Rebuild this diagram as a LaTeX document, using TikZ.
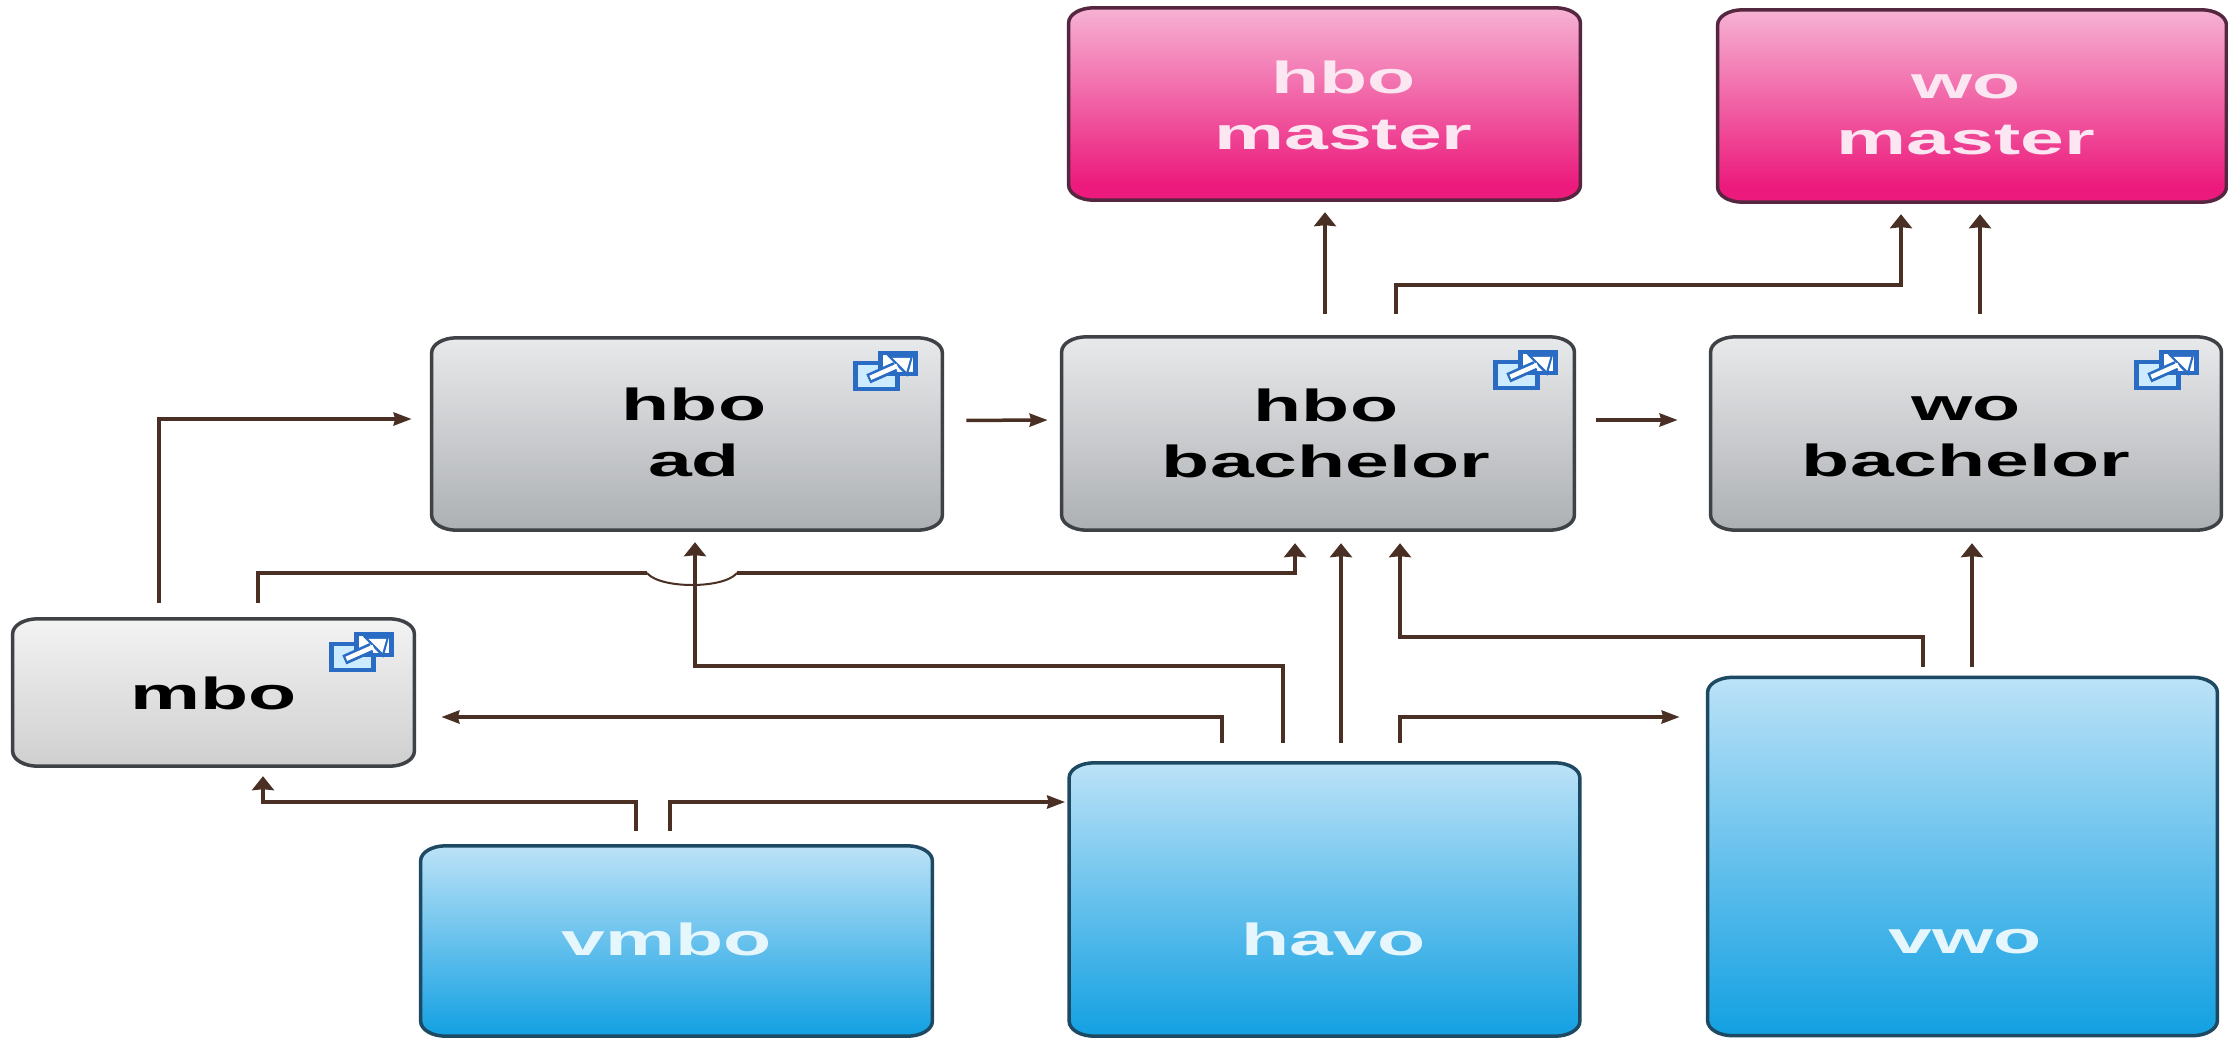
\documentclass[tikz,border=0pt]{standalone}
\usepackage{fontspec}
\setmainfont{Liberation Sans}
\usetikzlibrary{arrows.meta,backgrounds}
\definecolor{conn}{HTML}{4A3024}
\definecolor{pinkT}{HTML}{F6B2D3}
\definecolor{pinkB}{HTML}{EC1A7C}
\definecolor{blueT}{HTML}{BCE2F7}
\definecolor{blueB}{HTML}{12A0E2}
\definecolor{grayT}{HTML}{E8E9EB}
\definecolor{grayB}{HTML}{ADB0B3}
\definecolor{mboT}{HTML}{F3F3F3}
\definecolor{mboB}{HTML}{CFCFD0}
\definecolor{iconblue}{HTML}{2A6CC4}
\definecolor{iconfill}{HTML}{CDEBFF}
\definecolor{pinkedge}{HTML}{55263F}
\definecolor{blueedge}{HTML}{1D4A62}
\definecolor{grayedge}{HTML}{3E4145}
\definecolor{pinktext}{HTML}{FBE6F1}
\definecolor{bluetext}{HTML}{E6F6FD}
\pgfdeclareverticalshading{pinksh}{100bp}{color(0bp)=(pinkB); color(29bp)=(pinkB); color(75bp)=(pinkT); color(100bp)=(pinkT)}
\pgfdeclareverticalshading{bluesh}{100bp}{color(0bp)=(blueB); color(25bp)=(blueB); color(75bp)=(blueT); color(100bp)=(blueT)}
\pgfdeclareverticalshading{graysh}{100bp}{color(0bp)=(grayB); color(25bp)=(grayB); color(75bp)=(grayT); color(100bp)=(grayT)}
\pgfdeclareverticalshading{mbosh}{100bp}{color(0bp)=(mboB); color(25bp)=(mboB); color(75bp)=(mboT); color(100bp)=(mboT)}
% text placed by its offset from the centre of the box: dx (in picture px), baseline dy
\newcommand\lbl[3]{\raisebox{-#2pt}[0pt][0pt]{\makebox[0pt][c]{\kern\dimexpr #1pt*8/7\relax\begin{tabular}[b]{@{}c@{}}#3\end{tabular}}}}
% the outline of a box, with elliptical corners, behind its node
\newcommand\softbox[2]{\begin{scope}[on background layer]
  \path[softedge,#2] ([xshift=25pt]#1.north west) -- ([xshift=-25pt]#1.north east)
    arc[start angle=90,end angle=0,x radius=25pt,y radius=15pt]
    -- ([yshift=15pt]#1.south east)
    arc[start angle=0,end angle=-90,x radius=25pt,y radius=15pt]
    -- ([xshift=25pt]#1.south west)
    arc[start angle=270,end angle=180,x radius=25pt,y radius=15pt]
    -- ([yshift=-15pt]#1.north west)
    arc[start angle=180,end angle=90,x radius=25pt,y radius=15pt] -- cycle;
  \end{scope}}
\tikzset{
  x=1pt,y=-1pt,
  box/.style n args={2}{inner sep=0pt,
    minimum width=#1pt/1.75,minimum height=#2pt,xscale=1.75,transform shape,
    font=\fontsize{45}{56}\selectfont\bfseries},
  softedge/.style={draw,line width=3.5pt,shade},
  pinkbox/.style={text=pinktext},
  bluebox/.style={text=bluetext},
  graybox/.style={text=black},
  pinkfill/.style={shading=pinksh,draw=pinkedge},
  bluefill/.style={shading=bluesh,draw=blueedge},
  grayfill/.style={shading=graysh,draw=grayedge},
  mbofill/.style={shading=mbosh,draw=grayedge},
  link/.style={draw=conn,line width=4pt,line join=miter},
  up/.style={link,-{Stealth[length=14pt,width=22pt,inset=1pt]}},
  across/.style={link,line width=3.5pt,-{Stealth[length=18pt,width=13pt,inset=1.5pt]}},
  expandicon/.pic={
    \draw[iconblue,line width=4.5pt,fill=iconfill] (0,10) rectangle (42,36);
    \draw[iconblue,line width=4.5pt,fill=white] (25,0) rectangle (60,21);
    \draw[iconblue,line width=10pt] (13,26) -- (40,14);
    \fill[iconblue] (31,2) -- (58,2) -- (52,24) -- cycle;
    \draw[white,line width=4.5pt] (15,25) -- (42,13);
    \fill[white] (37,5) -- (55,5) -- (51,19) -- cycle;
  }
}
\begin{document}
\begin{tikzpicture}
\useasboundingbox (0,0) rectangle (2228,1038);
\begin{scope}[on background layer]
\fill[white] (0,0) rectangle (2228,1038);
\end{scope}
% boxes
\node[box={511}{192},pinkbox] (hbom) at (1324.5,104) {\lbl{19}{46}{hbo\\master}};
\node[box={508}{192},pinkbox] (wom)  at (1972,106)   {\lbl{-6}{49}{wo\\master}};
\node[box={510}{192},graybox] (hboa) at (687,434)    {\lbl{7}{42}{hbo\\ad}};
\node[box={512}{193},graybox] (hbob) at (1318,433.5) {\lbl{8}{43.5}{hbo\\bachelor}};
\node[box={510}{193},graybox] (wob)  at (1966,433.5) {\lbl{0}{43}{wo\\bachelor}};
\node[box={401}{147},graybox] (mbo)  at (213.5,692.5){\lbl{0}{16.5}{mbo}};
\node[box={511}{190},bluebox] (vmbo) at (676.5,941)  {\lbl{-10}{14}{vmbo}};
\node[box={510}{273},bluebox] (havo) at (1324.5,899.5){\lbl{9}{55.5}{havo}};
\node[box={509}{358},bluebox] (vwo)  at (1962.5,856.5){\lbl{3}{96.5}{vwo}};
\softbox{hbom}{pinkfill}
\softbox{wom}{pinkfill}
\softbox{hboa}{grayfill}
\softbox{hbob}{grayfill}
\softbox{wob}{grayfill}
\softbox{mbo}{mbofill}
\softbox{vmbo}{bluefill}
\softbox{havo}{bluefill}
\softbox{vwo}{bluefill}
% icons
\pic at ([xshift=-87pt,yshift=-15pt]hboa.north east) {expandicon};
\pic at ([xshift=-79pt,yshift=-15pt]hbob.north east) {expandicon};
\pic at ([xshift=-85pt,yshift=-15pt]wob.north east) {expandicon};
\pic at ([xshift=-83pt,yshift=-15pt]mbo.north east) {expandicon};
% connectors
\draw[up,shorten <=23pt,shorten >=12pt] ([xshift=7pt]hbob.north) -- ([xshift=0.5pt]hbom.south);
\draw[up,shorten <=23pt,shorten >=12pt] ([xshift=78pt]hbob.north) -- ++(0,-52) -| ([xshift=-71pt]wom.south);
\draw[up,shorten <=23pt,shorten >=12pt] ([xshift=14pt]wob.north) -- ([xshift=8pt]wom.south);
\draw[across,shorten <=24pt,shorten >=14pt] ([yshift=13.5pt]hboa.east) -- ([yshift=13.5pt]hbob.west);
\draw[across,shorten <=22pt,shorten >=33pt] ([yshift=13.5pt]hbob.east) -- ([yshift=13.5pt]wob.west);
\draw[across,shorten <=16pt,shorten >=20pt] ([xshift=-54.5pt]mbo.north) |- ([yshift=15pt]hboa.west);
% mbo to hbo bachelor, with a bridge over the arrow into hbo ad
\coordinate (jl) at (647,573);
\coordinate (jr) at (737,573);
\draw[link,line width=3.5pt,shorten <=16pt] ([xshift=44.5pt]mbo.north) |- (jl);
\draw[draw=conn,line width=2pt] (jl) .. controls (660,589) and (724,589) .. (jr);
\draw[up,line width=3.5pt,shorten >=13pt] (jr) -| ([xshift=-23pt]hbob.south);
\draw[up,shorten <=20pt,shorten >=12pt] ([xshift=-41.5pt]havo.north) -- ++(0,-97) -| ([xshift=8pt]hboa.south);
\draw[across,shorten <=20pt,shorten >=27pt] ([xshift=-102.5pt]havo.north) |- ([yshift=-24.5pt]mbo.east);
\draw[up,shorten <=20pt,shorten >=13pt] ([xshift=16.5pt]havo.north) -- ([xshift=23pt]hbob.south);
\draw[up,shorten <=10pt,shorten >=13pt] ([xshift=-39.5pt]vwo.north) -- ++(0,-40) -| ([xshift=82pt]hbob.south);
\draw[up,shorten <=10pt,shorten >=13pt] ([xshift=9.5pt]vwo.north) -- ([xshift=6pt]wob.south);
\draw[across,shorten <=20pt,shorten >=28pt] ([xshift=75.5pt]havo.north) |- ([yshift=139.5pt]vwo.west);
\draw[up,line width=3.5pt,shorten <=15pt,shorten >=10pt] ([xshift=-40.5pt]vmbo.north) -- ++(0,-44) -| ([xshift=49.5pt]mbo.south);
\draw[across,shorten <=15pt,shorten >=4pt] ([xshift=-6.5pt]vmbo.north) |- ([yshift=97.5pt]havo.west);
\end{tikzpicture}
\end{document}
